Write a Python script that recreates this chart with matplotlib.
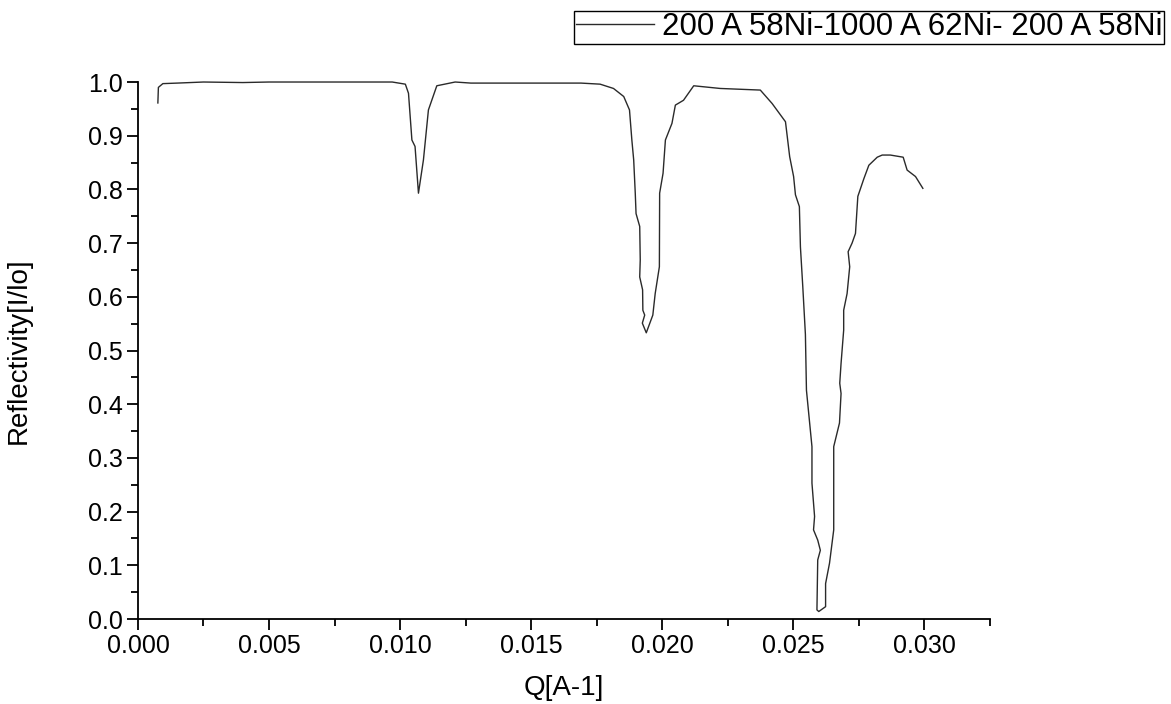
import numpy as np
import matplotlib
matplotlib.use("Agg")
import matplotlib.pyplot as plt
from matplotlib.ticker import MultipleLocator, FormatStrFormatter

plt.rcParams["font.family"] = ["Liberation Sans", "DejaVu Sans"]

label = "200 A 58Ni-1000 A 62Ni- 200 A 58Ni"

q = [0.00076, 0.00078, 0.00095, 0.0015, 0.0025, 0.0040, 0.0050, 0.0065, 0.0080,
     0.0090, 0.0097, 0.0102, 0.01032, 0.01045, 0.01057, 0.0107, 0.01089, 0.01108,
     0.0114, 0.0121, 0.0127, 0.0145, 0.0160, 0.0169, 0.01763, 0.01814, 0.01853,
     0.01875, 0.01884, 0.01891, 0.01897, 0.0190, 0.01914, 0.01916, 0.01914,
     0.01925, 0.01926, 0.01933, 0.01924, 0.01939, 0.01964, 0.01973, 0.01989,
     0.0199, 0.02003, 0.02012, 0.02037, 0.0205, 0.02081, 0.0212, 0.02221,
     0.02374, 0.02419, 0.0247, 0.02486, 0.02501, 0.02508, 0.02523, 0.02527,
     0.02536, 0.02546, 0.0255, 0.02571, 0.02571, 0.02581, 0.02577, 0.02593,
     0.02603, 0.02593, 0.0259, 0.02597, 0.02623, 0.02623, 0.02638, 0.02654,
     0.02654, 0.02676, 0.02682, 0.02677, 0.02682, 0.02692, 0.02692, 0.02705,
     0.02715, 0.02709, 0.02724, 0.02737, 0.02746, 0.02769, 0.02788, 0.0282,
     0.02839, 0.0287, 0.02919, 0.02934, 0.02966, 0.02994]

refl = [0.961, 0.990, 0.997, 0.998, 1.000, 0.999, 1.000, 1.000, 1.000,
        1.000, 1.000, 0.996, 0.979, 0.892, 0.880, 0.793, 0.855, 0.948,
        0.993, 1.000, 0.998, 0.998, 0.998, 0.998, 0.996, 0.988, 0.973,
        0.948, 0.892, 0.855, 0.793, 0.755, 0.731, 0.669, 0.637,
        0.613, 0.575, 0.566, 0.551, 0.533, 0.566, 0.606, 0.656,
        0.793, 0.830, 0.892, 0.923, 0.957, 0.966, 0.993, 0.988,
        0.985, 0.960, 0.926, 0.861, 0.824, 0.790, 0.768, 0.693,
        0.619, 0.530, 0.426, 0.321, 0.253, 0.191, 0.166, 0.147,
        0.128, 0.110, 0.017, 0.014, 0.023, 0.066, 0.104, 0.166,
        0.321, 0.365, 0.420, 0.439, 0.476, 0.538, 0.575, 0.606,
        0.656, 0.684, 0.700, 0.718, 0.787, 0.820, 0.845, 0.860,
        0.864, 0.864, 0.860, 0.836, 0.824, 0.802]

fig = plt.figure(figsize=(11.71, 7.04), dpi=100)
ax = fig.add_axes([0.1178, 0.1207, 0.7276, 0.7628])
ax.plot(q, refl, color="#2a2a2a", lw=1.0, label=label, clip_on=False)

ax.set_xlim(0, 0.0325)
ax.set_ylim(0, 1.0)
ax.xaxis.set_major_locator(MultipleLocator(0.005))
ax.xaxis.set_minor_locator(MultipleLocator(0.0025))
ax.yaxis.set_major_locator(MultipleLocator(0.1))
ax.yaxis.set_minor_locator(MultipleLocator(0.05))
ax.xaxis.set_major_formatter(FormatStrFormatter("%.3f"))
ax.yaxis.set_major_formatter(FormatStrFormatter("%.1f"))

for side in ["top", "right"]:
    ax.spines[side].set_visible(False)
for side in ["left", "bottom"]:
    ax.spines[side].set_linewidth(1.3)
ax.tick_params(which="major", direction="out", length=8, width=1.3, labelsize=18, pad=3)
ax.tick_params(which="minor", direction="out", length=5, width=1.3)

ax.set_xlabel("Q[A-1]", fontsize=20, labelpad=12)
ax.set_ylabel("Reflectivity[I/lo]", fontsize=20, labelpad=40)

fig.legend(loc="upper right", bbox_to_anchor=(0.994, 0.985), fontsize=22.5,
           frameon=True, fancybox=False, edgecolor="black", framealpha=1,
           handlelength=2.5, handletextpad=0.25, borderpad=0.05, borderaxespad=0)

plt.savefig("out.png", dpi=100)
plt.close()
